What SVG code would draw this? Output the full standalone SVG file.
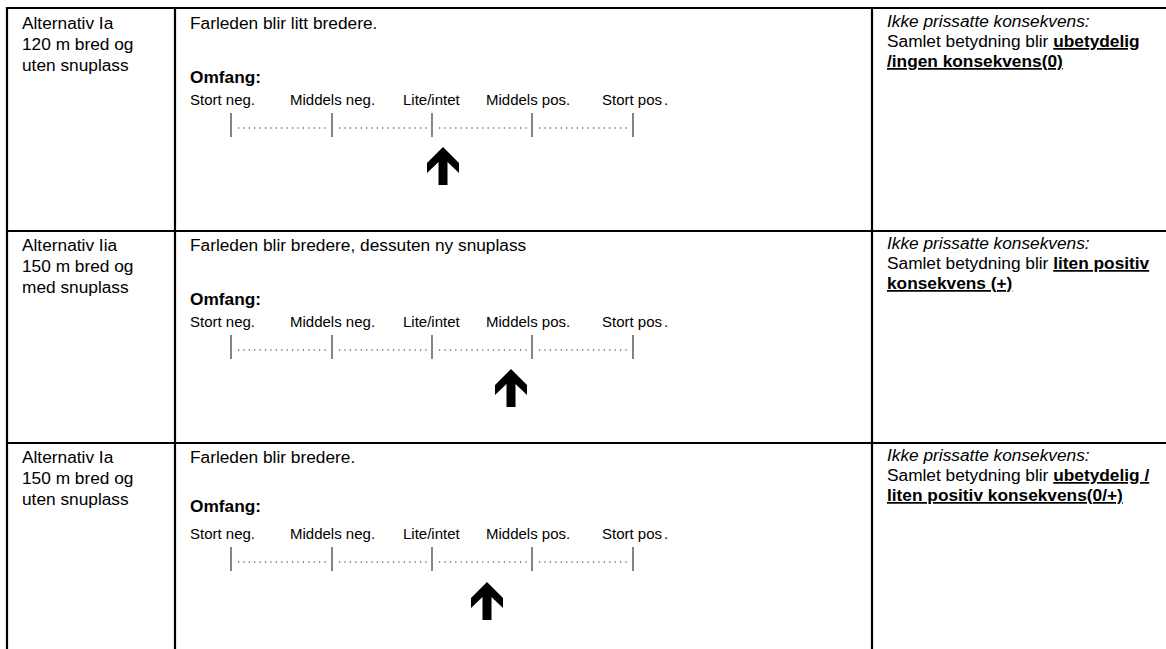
<svg xmlns="http://www.w3.org/2000/svg" width="1166" height="649" viewBox="0 0 1166 649">
<defs>
<style>
text{font-family:"Liberation Sans",Arial,sans-serif;fill:#000}
.t{font-size:17.3px}
.s{font-size:15px}
.b{font-weight:bold}
.i{font-style:italic}
.u{font-weight:bold;text-decoration:underline}
.grid{stroke:#000;stroke-width:2.2;fill:none}
.tick{stroke:#333;stroke-width:1.2}
.dots{stroke:#222;stroke-width:1.2;stroke-dasharray:1.2 4.2}
.arr{fill:#000}
</style>
<g id="scale">
<line class="tick" x1="231" y1="113" x2="231" y2="137"/>
<line class="tick" x1="332" y1="113" x2="332" y2="137"/>
<line class="tick" x1="432" y1="113" x2="432" y2="137"/>
<line class="tick" x1="532" y1="113" x2="532" y2="137"/>
<line class="tick" x1="633" y1="113" x2="633" y2="137"/>
<line class="dots" x1="238" y1="128" x2="327" y2="128"/>
<line class="dots" x1="339" y1="128" x2="428" y2="128"/>
<line class="dots" x1="439" y1="128" x2="528" y2="128"/>
<line class="dots" x1="539" y1="128" x2="629" y2="128"/>
<text class="s" x="190" y="105">Stort neg.</text>
<text class="s" x="290" y="105">Middels neg.</text>
<text class="s" x="403" y="105">Lite/intet</text>
<text class="s" x="486" y="105">Middels pos.</text>
<text class="s" x="602" y="105">Stort pos<tspan dx="2">.</tspan></text>
</g>
<path id="arrow" class="arr" d="M0,0 L16,16 L16,26 L4.5,15 L4.5,38 L-4.5,38 L-4.5,15 L-16,26 L-16,16 Z"/>
</defs>

<g id="grid">
<line class="grid" x1="7" y1="8" x2="1166" y2="8"/>
<line class="grid" x1="7" y1="231" x2="1166" y2="231"/>
<line class="grid" x1="7" y1="443" x2="1166" y2="443"/>
<line class="grid" x1="7" y1="7" x2="7" y2="649"/>
<line class="grid" x1="175" y1="7" x2="175" y2="649"/>
<line class="grid" x1="872" y1="7" x2="872" y2="649"/>
</g>

<g id="row1-alt">
<text class="t" x="22" y="29">Alternativ Ia</text>
<text class="t" x="22" y="50">120 m bred og</text>
<text class="t" x="22" y="71">uten snuplass</text>
</g>
<g id="row1-omfang">
<text class="t" x="190" y="28.5">Farleden blir litt bredere.</text>
<text class="t b" x="190" y="83">Omfang:</text>
<use href="#scale"/>
<use href="#arrow" x="443" y="147"/>
</g>
<g id="row1-konsekvens">
<text class="t i" x="887" y="27">Ikke prissatte konsekvens:</text>
<text class="t" x="887" y="47">Samlet betydning blir <tspan class="u">ubetydelig</tspan></text>
<text class="t u" x="887" y="67">/ingen konsekvens(0)</text>
</g>

<g id="row2-alt">
<text class="t" x="22" y="251">Alternativ Iia</text>
<text class="t" x="22" y="272">150 m bred og</text>
<text class="t" x="22" y="293">med snuplass</text>
</g>
<g id="row2-omfang">
<text class="t" x="190" y="250.5">Farleden blir bredere, dessuten ny snuplass</text>
<text class="t b" x="190" y="305">Omfang:</text>
<use href="#scale" y="222"/>
<use href="#arrow" x="511" y="369"/>
</g>
<g id="row2-konsekvens">
<text class="t i" x="887" y="249">Ikke prissatte konsekvens:</text>
<text class="t" x="887" y="269">Samlet betydning blir <tspan class="u">liten positiv</tspan></text>
<text class="t u" x="887" y="289">konsekvens (+)</text>
</g>

<g id="row3-alt">
<text class="t" x="22" y="463">Alternativ Ia</text>
<text class="t" x="22" y="484">150 m bred og</text>
<text class="t" x="22" y="505">uten snuplass</text>
</g>
<g id="row3-omfang">
<text class="t" x="190" y="463">Farleden blir bredere.</text>
<text class="t b" x="190" y="512">Omfang:</text>
<use href="#scale" y="434"/>
<use href="#arrow" x="487" y="582"/>
</g>
<g id="row3-konsekvens">
<text class="t i" x="887" y="461">Ikke prissatte konsekvens:</text>
<text class="t" x="887" y="481">Samlet betydning blir <tspan class="u">ubetydelig /</tspan></text>
<text class="t u" x="887" y="501">liten positiv konsekvens(0/+)</text>
</g>
</svg>
